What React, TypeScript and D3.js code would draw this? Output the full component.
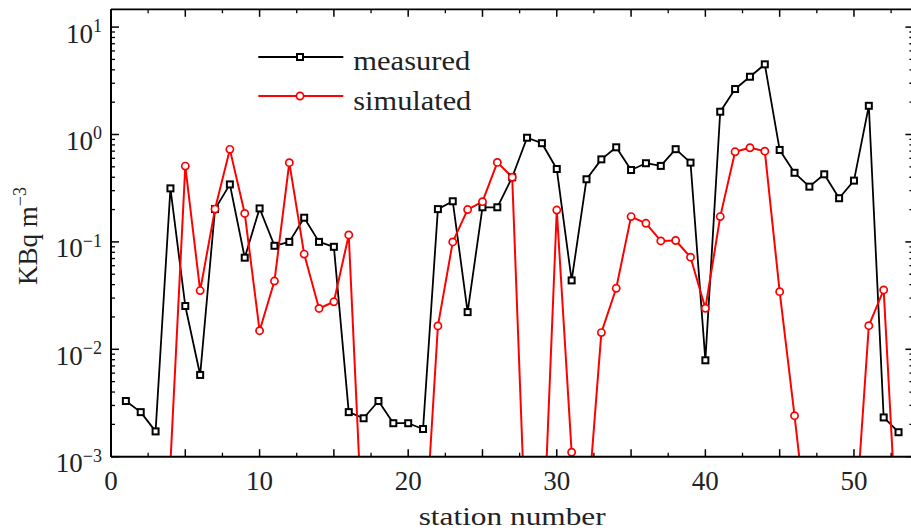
import React from "react";
import * as d3 from "d3";

const stations: number[] = [1,2,3,4,5,6,7,8,9,10,11,12,13,14,15,16,17,18,19,20,21,22,23,24,25,26,27,28,29,30,31,32,33,34,35,36,37,38,39,40,41,42,43,44,45,46,47,48,49,50,51,52,53];

const measured: number[] = [
  3.3e-3, 2.6e-3, 1.72e-3, 0.315, 0.0253, 0.00577, 0.202, 0.343, 0.0713, 0.205,
  0.092, 0.1, 0.168, 0.1, 0.09, 2.6e-3, 2.28e-3, 3.3e-3, 2.05e-3, 2.05e-3,
  1.81e-3, 0.202, 0.239, 0.0222, 0.21, 0.21, 0.40, 0.933, 0.83, 0.477,
  0.0438, 0.383, 0.587, 0.76, 0.467, 0.54, 0.51, 0.73, 0.547, 0.0079,
  1.63, 2.65, 3.45, 4.5, 0.718, 0.44, 0.327, 0.426, 0.255, 0.372,
  1.85, 2.32e-3, 1.69e-3,
];

const simulated: (number | null)[] = [
  null, null, null, 8.8e-4, 0.508, 0.0352, 0.202, 0.727, 0.184, 0.0149,
  0.0432, 0.547, 0.077, 0.024, 0.0277, 0.116, 1.15e-4, null, null, null,
  8.9e-5, 0.0165, 0.1, 0.2, 0.237, 0.55, 0.40, 8.3e-5, 8e-5, 0.198,
  1.1e-3, 2.39e-4, 0.0143, 0.037, 0.172, 0.149, 0.102, 0.103, 0.072, 0.0241,
  0.172, 0.69, 0.753, 0.70, 0.0344, 2.41e-3, 1.49e-4, null, null, 1.57e-4,
  0.0166, 0.0357, 9.8e-5,
];

const xTickLabels: number[] = [0, 10, 20, 30, 40, 50];
const yDecades: number[] = [-3, -2, -1, 0, 1];
const seriesNames: string[] = ["measured", "simulated"];
const xLabel = "station number";

const W = 911;
const H = 532;
const left = 111;
const right = 913.4;
const top = 9.3;
const bottom = 456.7;
const FONT = "'Liberation Serif', 'Times New Roman', serif";

export default function App() {
  const x = d3.scaleLinear().domain([0, 54]).range([left, right]);
  const y = d3.scaleLog().domain([1e-3, Math.pow(10, 1.1657)]).range([bottom, top]);

  const blackPts = stations.map((s, i) => ({ s, v: measured[i] }));
  const redPts = stations.map((s, i) => ({ s, v: simulated[i] }));

  const line = d3
    .line<{ s: number; v: number | null }>()
    .defined((d) => d.v !== null && (d.v as number) > 0)
    .x((d) => x(d.s))
    .y((d) => y(d.v as number));

  const xMajor = d3.range(0, 54.01, 5);
  const xMinor = d3.range(2.5, 54, 5);
  const yMinor: number[] = [];
  yDecades.forEach((k) => {
    for (let m = 2; m <= 9; m++) {
      const v = m * Math.pow(10, k);
      if (v < y.domain()[1]) yMinor.push(v);
    }
  });

  const inDomain = (v: number | null) => v !== null && v >= 1e-3 && v <= y.domain()[1];

  return (
    <svg width={W} height={H} style={{ position: "absolute", left: 0, top: 0, background: "#fff" }}>
      <defs>
        <clipPath id="plotclip">
          <rect x={left} y={top} width={right - left} height={bottom - top} />
        </clipPath>
      </defs>
      <rect x={0} y={0} width={W} height={H} fill="#fff" />

      {/* series */}
      <g clipPath="url(#plotclip)">
        <path d={line(blackPts) || ""} fill="none" stroke="#000" strokeWidth={1.8} strokeLinejoin="round" />
        <path d={line(redPts) || ""} fill="none" stroke="#ff0000" strokeWidth={2} strokeLinejoin="round" />
        {blackPts.filter((d) => inDomain(d.v)).map((d) => (
          <rect key={"b" + d.s} x={x(d.s) - 3} y={y(d.v) - 3} width={6} height={6} fill="#fff" stroke="#000" strokeWidth={2} />
        ))}
        {redPts.filter((d) => inDomain(d.v)).map((d) => (
          <circle key={"r" + d.s} cx={x(d.s)} cy={y(d.v as number)} r={3.6} fill="#fff" stroke="#ff0000" strokeWidth={1.7} />
        ))}
      </g>

      {/* frame */}
      <g stroke="#000" fill="none">
        <line x1={left} x2={W + 5} y1={top} y2={top} strokeWidth={1.8} />
        <line x1={left} x2={W + 5} y1={bottom} y2={bottom} strokeWidth={2} />
        <line x1={left} x2={left} y1={top} y2={bottom} strokeWidth={2} />
        <line x1={right} x2={right} y1={top} y2={bottom} strokeWidth={2} />
        {xMajor.map((t) => (
          <g key={"xm" + t}>
            <line x1={x(t)} x2={x(t)} y1={bottom} y2={bottom - 7.5} strokeWidth={1.5} />
            <line x1={x(t)} x2={x(t)} y1={top} y2={top + 7.5} strokeWidth={1.5} />
          </g>
        ))}
        {xMinor.map((t) => (
          <g key={"xn" + t}>
            <line x1={x(t)} x2={x(t)} y1={bottom} y2={bottom - 4} strokeWidth={1.3} />
            <line x1={x(t)} x2={x(t)} y1={top} y2={top + 4} strokeWidth={1.3} />
          </g>
        ))}
        {yDecades.map((k) => {
          const yy = y(Math.pow(10, k));
          return (
            <g key={"ym" + k}>
              <line x1={left} x2={left + 8} y1={yy} y2={yy} strokeWidth={1.5} />
              <line x1={right} x2={right - 8} y1={yy} y2={yy} strokeWidth={1.5} />
            </g>
          );
        })}
        {yMinor.map((v, i) => (
          <g key={"yn" + i}>
            <line x1={left} x2={left + 4} y1={y(v)} y2={y(v)} strokeWidth={1.3} />
            <line x1={right} x2={right - 4} y1={y(v)} y2={y(v)} strokeWidth={1.3} />
          </g>
        ))}
      </g>

      {/* x tick labels */}
      {xTickLabels.map((t) => (
        <text key={"xl" + t} x={x(t)} y={490} textAnchor="middle" fontFamily={FONT} fontSize={27} fill="#222">
          {t}
        </text>
      ))}

      {/* y tick labels */}
      {yDecades.map((k) => (
        <text key={"yl" + k} x={102} y={y(Math.pow(10, k)) + 15.5} textAnchor="end" fontFamily={FONT} fontSize={27} fill="#222">
          10
          <tspan fontSize={18} dy={-10.5}>
            {k < 0 ? "\u2212" + Math.abs(k) : String(k)}
          </tspan>
        </text>
      ))}

      {/* axis titles */}
      <text x={(left + right) / 2} y={525} textAnchor="middle" fontFamily={FONT} fontSize={26} fill="#222" textLength={187} lengthAdjust="spacingAndGlyphs">
        {xLabel}
      </text>
      <text transform="translate(36.5,236) rotate(-90)" textAnchor="middle" fontFamily={FONT} fontSize={27} fill="#222">
        KBq m
        <tspan fontSize={18} dy={-10.5}>{"\u22123"}</tspan>
      </text>

      {/* legend */}
      <g>
        <line x1={258.3} x2={343.3} y1={57} y2={57} stroke="#000" strokeWidth={1.8} />
        <rect x={297} y={54} width={6} height={6} fill="#fff" stroke="#000" strokeWidth={2} />
        <text x={353.3} y={70} fontFamily={FONT} fontSize={27} fill="#222" textLength={117} lengthAdjust="spacingAndGlyphs">
          {seriesNames[0]}
        </text>
        <line x1={258.3} x2={343.3} y1={96} y2={96} stroke="#ff0000" strokeWidth={2} />
        <circle cx={300} cy={96} r={3.6} fill="#fff" stroke="#ff0000" strokeWidth={1.7} />
        <text x={353.3} y={110} fontFamily={FONT} fontSize={27} fill="#222" textLength={118} lengthAdjust="spacingAndGlyphs">
          {seriesNames[1]}
        </text>
      </g>
    </svg>
  );
}
